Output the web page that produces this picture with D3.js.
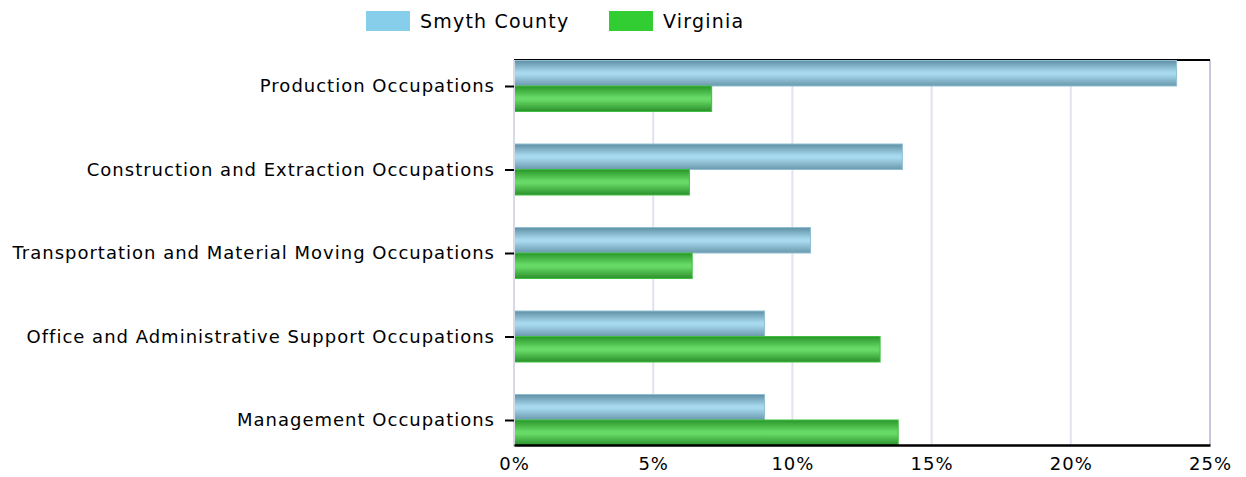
<!DOCTYPE html>
<html><head><meta charset="utf-8">
<script src="https://cdn.jsdelivr.net/npm/d3@7"></script>
<style>body{margin:0;background:#fff}svg{display:block}text{font-family:"DejaVu Sans",Verdana,sans-serif}</style>
</head><body>
<script>
const categories = ["Production Occupations","Construction and Extraction Occupations","Transportation and Material Moving Occupations","Office and Administrative Support Occupations","Management Occupations"];
const seriesNames = ["Smyth County","Virginia"];
const smyth = [23.8, 13.95, 10.65, 9.0, 9.0];
const virginia = [7.1, 6.3, 6.4, 13.15, 13.8];
const xTicks = [0,5,10,15,20,25];
const colors = ["#87ceeb","#32cd32"];

(function(){
const W=1246,H=477;
const svg=d3.select("body").append("svg").attr("width",W).attr("height",H);
const defs=svg.append("defs");
function grad(id,stops){const g=defs.append("linearGradient").attr("id",id).attr("x1",0).attr("y1",0).attr("x2",0).attr("y2",1);
 stops.forEach(s=>g.append("stop").attr("offset",s[0]).attr("stop-color",s[1]));}
grad("gb",[[0,"#5f8fa3"],[0.45,"#a6d8ee"],[0.55,"#a6d8ee"],[1,"#6a98ab"]]);
grad("gg",[[0,"#2a962a"],[0.45,"#66d966"],[0.55,"#66d966"],[1,"#2b8f2b"]]);

const x=d3.scaleLinear().domain([0,25]).range([514,1210]);
const y=d3.scalePoint().domain(categories).range([86,420]);
const bh=25.5;
const pTop=60,pBottom=445;

svg.append("g").selectAll("line").data(xTicks).join("line")
 .attr("x1",d=>x(d)).attr("x2",d=>x(d)).attr("y1",pTop).attr("y2",pBottom)
 .attr("stroke",d=>d===25?"#c8c8dc":"#e2e2f2").attr("stroke-width",2);
svg.append("line").attr("x1",514).attr("x2",1210).attr("y1",pTop).attr("y2",pTop).attr("stroke","#000").attr("stroke-width",2);

const data=categories.map((c,i)=>({c,v:[smyth[i],virginia[i]]}));
const g=svg.append("g");
data.forEach(d=>{
 g.append("rect").attr("x",x(0)).attr("y",y(d.c)-bh).attr("width",x(d.v[0])-x(0)).attr("height",bh)
  .attr("fill","url(#gb)").attr("stroke","#8fbfd3").attr("stroke-width",1);
 g.append("rect").attr("x",x(0)).attr("y",y(d.c)).attr("width",x(d.v[1])-x(0)).attr("height",bh)
  .attr("fill","url(#gg)").attr("stroke","#3fbf3f").attr("stroke-width",1);
});

svg.append("line").attr("x1",514).attr("x2",514).attr("y1",pTop).attr("y2",pBottom).attr("stroke","#d8d8e8").attr("stroke-width",2);
const ya=svg.append("g").attr("transform","translate(514,0)").call(d3.axisLeft(y).tickSize(9).tickPadding(10));
ya.select(".domain").remove();
ya.selectAll("line").attr("stroke","#000").attr("stroke-width",2);
ya.selectAll("text").attr("font-size",18).attr("letter-spacing","1px").attr("fill","#000");

const xa=svg.append("g").attr("transform",`translate(0,${pBottom})`).call(d3.axisBottom(x).tickValues(xTicks).tickFormat(d=>d+"%").tickSize(0).tickPadding(12));
xa.select(".domain").attr("stroke","#000").attr("stroke-width",2.5);
xa.selectAll("text").attr("font-size",18).attr("letter-spacing","1px").attr("fill","#000");

const lx=[366,609];
seriesNames.forEach((s,i)=>{
 svg.append("rect").attr("x",lx[i]).attr("y",11).attr("width",44).attr("height",20).attr("fill",colors[i]);
 svg.append("text").attr("x",lx[i]+54).attr("y",21).attr("dy","0.35em").attr("font-size",19).attr("letter-spacing","1.2px").attr("fill","#000").text(s);
});
})();
</script>
</body></html>
